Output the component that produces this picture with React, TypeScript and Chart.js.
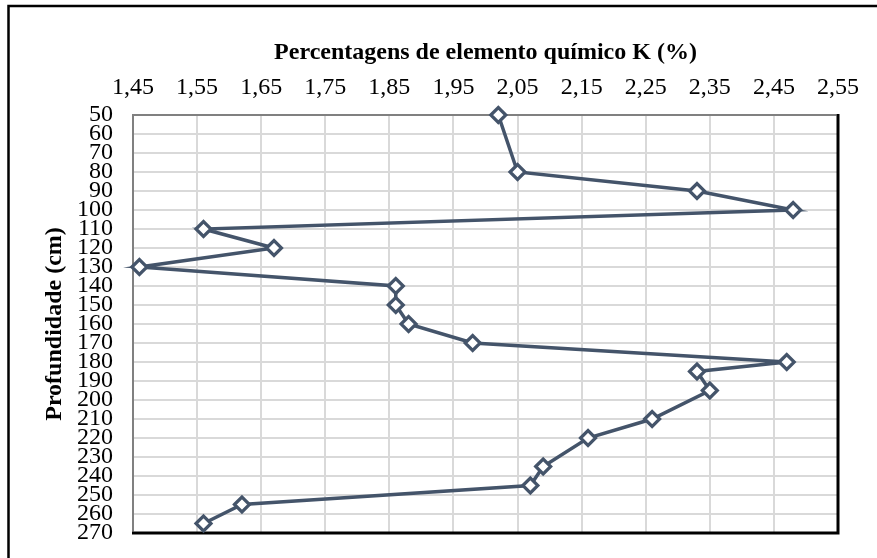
import { useEffect, useRef } from "react";
import { Chart, registerables } from "chart.js";

Chart.register(...registerables);

// Depth (cm) and potassium percentage (%)
const depthCm = [50, 80, 90, 100, 110, 120, 130, 140, 150, 160, 170, 180, 185, 195, 210, 220, 235, 245, 255, 265];
const potassiumPct = [2.02, 2.05, 2.33, 2.48, 1.56, 1.67, 1.46, 1.86, 1.86, 1.88, 1.98, 2.47, 2.33, 2.35, 2.26, 2.16, 2.09, 2.07, 1.62, 1.56];

const xTickValues = [1.45, 1.55, 1.65, 1.75, 1.85, 1.95, 2.05, 2.15, 2.25, 2.35, 2.45, 2.55];
const yTickValues = [50, 60, 70, 80, 90, 100, 110, 120, 130, 140, 150, 160, 170, 180, 190, 200, 210, 220, 230, 240, 250, 260, 270];

const xTitle = "Percentagens de elemento químico K (%)";
const yTitle = "Profundidade (cm)";

const FONT = "'Liberation Serif', 'Times New Roman', serif";
const LINE_COLOR = "#44546A";

const framePlugin = {
  id: "frame",
  beforeDatasetsDraw(chart: any) {
    const { ctx, chartArea: a } = chart;
    ctx.save();
    ctx.strokeStyle = "#000";
    ctx.lineWidth = 3;
    ctx.beginPath();
    ctx.moveTo(a.right, a.top - 1);
    ctx.lineTo(a.right, a.bottom);
    ctx.lineTo(a.left - 1, a.bottom);
    ctx.stroke();
    ctx.strokeStyle = "#808080";
    ctx.lineWidth = 2;
    ctx.beginPath();
    ctx.moveTo(a.left, a.bottom - 1.5);
    ctx.lineTo(a.left, a.top);
    ctx.lineTo(a.right - 1.5, a.top);
    ctx.stroke();
    ctx.restore();
  },
  afterDraw(chart: any) {
    const { ctx } = chart;
    ctx.save();
    ctx.strokeStyle = "#000";
    ctx.lineWidth = 2.5;
    ctx.strokeRect(8.5, 6, 1000, 1000);
    ctx.restore();
  },
};

export default function App() {
  const canvasRef = useRef<HTMLCanvasElement | null>(null);

  useEffect(() => {
    if (!canvasRef.current) return;
    const points = depthCm.map((d, i) => ({ x: potassiumPct[i], y: d }));
    const chart = new Chart(canvasRef.current, {
      type: "scatter",
      data: {
        datasets: [
          {
            data: points,
            showLine: true,
            borderColor: LINE_COLOR,
            borderWidth: 3.5,
            pointStyle: "rectRot",
            pointRadius: 7.5,
            pointBorderWidth: 3.2,
            pointBackgroundColor: "#ffffff",
            pointBorderColor: LINE_COLOR,
            clip: false as any,
          },
        ],
      },
      options: {
        animation: false,
        responsive: false,
        devicePixelRatio: 1,
        layout: { padding: { left: 0, top: 0, right: 39, bottom: 25 } },
        plugins: {
          legend: { display: false },
          tooltip: { enabled: false },
        },
        scales: {
          x: {
            type: "linear",
            position: "top",
            min: 1.45,
            max: 2.55,
            afterBuildTicks: (s: any) => {
              s.ticks = xTickValues.map((v) => ({ value: v }));
            },
            afterFit: (s: any) => {
              s.height = 115;
              s.paddingLeft = 0;
              s.paddingRight = 0;
            },
            ticks: {
              autoSkip: false,
              maxRotation: 0,
              padding: 13,
              color: "#000",
              font: { family: FONT, size: 24 },
              callback: (v: any) => Number(v).toFixed(2).replace(".", ","),
            },
            grid: { color: "#d9d9d9", lineWidth: 2, drawTicks: false },
            border: { display: true, color: "#808080", width: 2 },
            title: {
              display: true,
              text: xTitle,
              color: "#000",
              font: { family: FONT, size: 24, weight: "bold" },
              padding: { top: 38, bottom: 0 },
            },
          },
          y: {
            type: "linear",
            reverse: true,
            min: 50,
            max: 270,
            afterBuildTicks: (s: any) => {
              s.ticks = yTickValues.map((v) => ({ value: v }));
            },
            afterFit: (s: any) => {
              s.width = 133;
              s.paddingTop = 0;
              s.paddingBottom = 0;
            },
            ticks: {
              autoSkip: false,
              padding: 20,
              color: "#000",
              font: { family: FONT, size: 24 },
            },
            grid: { color: "#d9d9d9", lineWidth: 2, drawTicks: false },
            border: { display: true, color: "#808080", width: 2 },
            title: {
              display: true,
              text: yTitle,
              color: "#000",
              font: { family: FONT, size: 24, weight: "bold" },
              padding: { top: 40, bottom: 0 },
            },
          },
        },
      } as any,
      plugins: [framePlugin],
    });
    return () => chart.destroy();
  }, []);

  return (
    <div style={{ position: "fixed", left: 0, top: 0, width: 877, height: 558, background: "#fff" }}>
      <canvas ref={canvasRef} width={877} height={558} style={{ display: "block" }} />
    </div>
  );
}
